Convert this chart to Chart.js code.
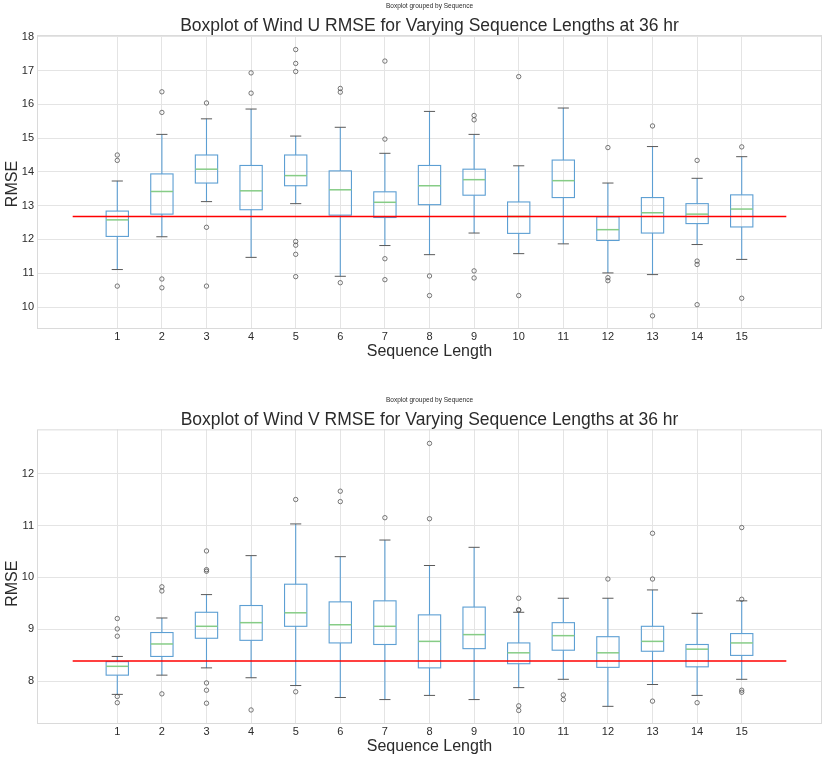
<!DOCTYPE html>
<html>
<head>
<meta charset="utf-8">
<title>Wind RMSE boxplots</title>
<script src="https://cdn.jsdelivr.net/npm/chart.js@4.4.1/dist/chart.umd.min.js"></script>
<style>
  html, body { margin: 0; padding: 0; background: #fff; }
  .panel { position: absolute; left: 0; width: 822px; height: 379px; }
  #panelU { top: 0; }
  #panelV { top: 379px; }
</style>
</head>
<body>
<div class="panel" id="panelU"><canvas id="windU"></canvas></div>
<div class="panel" id="panelV"><canvas id="windV"></canvas></div>
<script>
const sequences = [1, 2, 3, 4, 5, 6, 7, 8, 9, 10, 11, 12, 13, 14, 15];
const baselineSpan = [0, 16];

// Wind U RMSE per sequence length
const uLow    = [11.11, 12.08, 13.12, 11.47, 13.06, 10.91, 11.82, 11.55, 12.19, 11.58, 11.87, 11.01, 10.96, 11.85, 11.41];
const uQ1     = [12.09, 12.75, 13.67, 12.88, 13.59, 12.72, 12.65, 13.03, 13.31, 12.18, 13.24, 11.97, 12.19, 12.47, 12.37];
const uMedian = [12.58, 13.42, 14.08, 13.44, 13.89, 13.47, 13.10, 13.59, 13.77, 12.68, 13.74, 12.29, 12.79, 12.75, 12.90];
const uQ3     = [12.84, 13.94, 14.50, 14.19, 14.50, 14.03, 13.41, 14.19, 14.08, 13.11, 14.35, 12.67, 13.24, 13.06, 13.32];
const uHigh   = [13.73, 15.11, 15.57, 15.86, 15.06, 15.32, 14.55, 15.79, 15.11, 14.18, 15.89, 13.67, 14.75, 13.81, 14.45];
const uFliers = [
  [14.50, 14.34, 10.62],
  [16.37, 15.76, 10.83, 10.57],
  [16.04, 12.36, 10.62],
  [16.93, 16.33],
  [17.62, 17.21, 16.97, 11.94, 11.83, 11.56, 10.90],
  [16.47, 16.36, 10.72],
  [17.28, 14.97, 11.43, 10.81],
  [10.92, 10.34],
  [15.67, 15.54, 11.07, 10.86],
  [16.82, 10.34],
  [],
  [14.72, 10.87, 10.78],
  [15.36, 9.74],
  [14.34, 11.36, 11.26, 10.07],
  [14.74, 10.26]
];
const uBaseline = 12.68;

// Wind V RMSE per sequence length
const vLow    = [7.75, 8.12, 8.26, 8.07, 7.92, 7.69, 7.65, 7.73, 7.65, 7.88, 8.04, 7.52, 7.94, 7.73, 8.04];
const vQ1     = [8.12, 8.48, 8.83, 8.79, 9.06, 8.74, 8.71, 8.26, 8.63, 8.34, 8.60, 8.27, 8.58, 8.28, 8.50];
const vMedian = [8.29, 8.72, 9.06, 9.13, 9.32, 9.09, 9.06, 8.77, 8.90, 8.55, 8.88, 8.55, 8.77, 8.62, 8.74];
const vQ3     = [8.38, 8.94, 9.33, 9.46, 9.87, 9.53, 9.55, 9.28, 9.43, 8.74, 9.13, 8.86, 9.06, 8.71, 8.92];
const vHigh   = [8.48, 9.22, 9.67, 10.42, 11.03, 10.40, 10.72, 10.23, 10.58, 9.33, 9.60, 9.60, 9.76, 9.31, 9.55];
const vFliers = [
  [9.21, 9.01, 8.87, 7.71, 7.59],
  [9.82, 9.74, 7.76],
  [10.51, 10.15, 10.12, 7.97, 7.83, 7.58],
  [7.45],
  [11.50, 7.80],
  [11.66, 11.46],
  [11.15],
  [12.58, 11.13],
  [],
  [9.60, 9.38, 9.37, 7.53, 7.44],
  [7.74, 7.65],
  [9.97],
  [10.85, 9.97, 7.62],
  [7.59],
  [10.96, 9.58, 7.83, 7.79]
];
const vBaseline = 8.39;

const FONT = "'Liberation Sans', Arial, sans-serif";
const textColor = '#2b2b2b';
const gridColor = '#e4e4e4';
const boxColor = '#5d9fd3';
const capColor = '#5a5a5a';
const medianColor = '#86cc86';

// boxes, whiskers, caps and medians drawn from the scales
const boxPlot = {
  id: 'boxPlot',
  beforeDatasetsDraw(chart, args, opts) {
    const { ctx, chartArea, scales: { x, y } } = chart;
    const s = opts.stats;
    if (!s) return;
    ctx.save();
    // frame around the plot area
    ctx.strokeStyle = '#dadada';
    ctx.lineWidth = 1;
    ctx.strokeRect(chartArea.left + 0.5, chartArea.top + 0.5, chartArea.width - 1, chartArea.height - 1);

    sequences.forEach((seq, i) => {
      const cx = x.getPixelForValue(seq);
      const bl = x.getPixelForValue(seq - 0.25);
      const br = x.getPixelForValue(seq + 0.25);
      const cl = x.getPixelForValue(seq - 0.125);
      const cr = x.getPixelForValue(seq + 0.125);
      const yLow = y.getPixelForValue(s.low[i]);
      const yQ1 = y.getPixelForValue(s.q1[i]);
      const yMed = y.getPixelForValue(s.median[i]);
      const yQ3 = y.getPixelForValue(s.q3[i]);
      const yHigh = y.getPixelForValue(s.high[i]);

      ctx.strokeStyle = boxColor;
      ctx.lineWidth = 1.1;
      ctx.beginPath();
      ctx.moveTo(cx, yQ1); ctx.lineTo(cx, yLow);
      ctx.moveTo(cx, yQ3); ctx.lineTo(cx, yHigh);
      ctx.stroke();
      ctx.strokeRect(bl, yQ3, br - bl, yQ1 - yQ3);

      ctx.strokeStyle = capColor;
      ctx.lineWidth = 1;
      ctx.beginPath();
      ctx.moveTo(cl, yLow); ctx.lineTo(cr, yLow);
      ctx.moveTo(cl, yHigh); ctx.lineTo(cr, yHigh);
      ctx.stroke();

      ctx.strokeStyle = medianColor;
      ctx.lineWidth = 1.5;
      ctx.beginPath();
      ctx.moveTo(bl, yMed); ctx.lineTo(br, yMed);
      ctx.stroke();
    });
    ctx.restore();
  }
};

// rotated y-axis label, a little below the middle of the plot area
const yLabel = {
  id: 'yLabel',
  afterDraw(chart, args, opts) {
    const { ctx, chartArea } = chart;
    ctx.save();
    ctx.translate(12.5, (chartArea.top + chartArea.bottom) / 2 + opts.shift);
    ctx.rotate(-Math.PI / 2);
    ctx.font = '16px ' + FONT;
    ctx.fillStyle = textColor;
    ctx.textAlign = 'center';
    ctx.textBaseline = 'middle';
    ctx.fillText(opts.text, 0, 0);
    ctx.restore();
  }
};

function makeChart(id, title, stats, fliers, baseline, yMin, yMax, pad) {
  const flierPoints = fliers.flatMap((vals, i) => vals.map(v => ({ x: sequences[i], y: v })));
  return new Chart(document.getElementById(id), {
    type: 'scatter',
    data: {
      datasets: [
        {
          data: flierPoints,
          pointStyle: 'circle',
          pointRadius: 2.2,
          borderColor: '#555',
          backgroundColor: 'rgba(0,0,0,0)',
          borderWidth: 0.8
        },
        {
          type: 'line',
          data: baselineSpan.map(x => ({ x: x, y: baseline })),
          borderColor: '#ff0000',
          borderWidth: 1.5,
          pointRadius: 0,
          fill: false
        }
      ]
    },
    options: {
      responsive: true,
      maintainAspectRatio: false,
      animation: false,
      events: [],
      layout: { autoPadding: false, padding: { left: 0, right: 0, top: 0, bottom: pad.bottom } },
      plugins: {
        legend: { display: false },
        tooltip: { enabled: false },
        title: {
          display: true,
          text: 'Boxplot grouped by Sequence',
          fullSize: false,
          color: textColor,
          font: { family: FONT, size: 6.5, weight: 'normal', lineHeight: 1.2 },
          padding: { top: pad.small, bottom: 0 }
        },
        subtitle: {
          display: true,
          text: title,
          fullSize: false,
          color: textColor,
          font: { family: FONT, size: 17.5, weight: 'normal', lineHeight: 1 },
          padding: { top: pad.big, bottom: 0 }
        },
        boxPlot: { stats: stats },
        yLabel: { text: 'RMSE', shift: pad.label }
      },
      scales: {
        x: {
          type: 'linear',
          min: -0.8,
          max: 16.8,
          afterBuildTicks: axis => { axis.ticks = sequences.map(v => ({ value: v })); },
          afterFit: axis => { axis.height = 32; },
          grid: { color: gridColor, drawTicks: false },
          border: { display: false },
          ticks: { padding: 1, color: textColor, font: { family: FONT, size: 11 } },
          title: {
            display: true,
            text: 'Sequence Length',
            color: textColor,
            font: { family: FONT, size: 16 },
            padding: 0
          }
        },
        y: {
          type: 'linear',
          min: yMin,
          max: yMax,
          afterFit: axis => { axis.width = 37; },
          grid: { color: gridColor, drawTicks: false },
          border: { display: false },
          ticks: { stepSize: 1, includeBounds: false, padding: 3, color: textColor, font: { family: FONT, size: 11 } }
        }
      }
    },
    plugins: [boxPlot, yLabel]
  });
}

makeChart('windU', 'Boxplot of Wind U RMSE for Varying Sequence Lengths at 36 hr',
  { low: uLow, q1: uQ1, median: uMedian, q3: uQ3, high: uHigh },
  uFliers, uBaseline, 9.35, 18.05, { small: 2.3, big: 7.45, bottom: 18, label: 2 });

makeChart('windV', 'Boxplot of Wind V RMSE for Varying Sequence Lengths at 36 hr',
  { low: vLow, q1: vQ1, median: vMedian, q3: vQ3, high: vHigh },
  vFliers, vBaseline, 7.18, 12.85, { small: 17.1, big: 7.95, bottom: 2, label: 7 });
</script>
</body>
</html>
